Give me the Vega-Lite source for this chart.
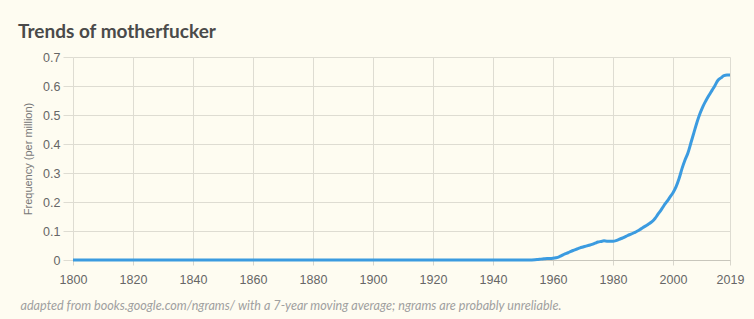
{
  "$schema": "https://vega.github.io/schema/vega-lite/v6.json",
  "autosize": "none",
  "width": 657,
  "height": 203,
  "padding": {"left": 73, "top": 57, "right": 24, "bottom": 59},
  "background": "#fefcf1",
  "title": {
    "text": "Trends of motherfucker",
    "anchor": "start",
    "frame": "group",
    "dx": -55,
    "offset": 9,
    "font": "Lato",
    "fontSize": 19,
    "fontWeight": "bold",
    "color": "#4a4a4a"
  },
  "data": {
    "values": [
      {"year": 1800, "freq": 0}, {"year": 1810, "freq": 0}, {"year": 1820, "freq": 0}, {"year": 1830, "freq": 0},
      {"year": 1840, "freq": 0}, {"year": 1850, "freq": 0}, {"year": 1860, "freq": 0}, {"year": 1870, "freq": 0},
      {"year": 1880, "freq": 0}, {"year": 1890, "freq": 0}, {"year": 1900, "freq": 0}, {"year": 1910, "freq": 0},
      {"year": 1920, "freq": 0}, {"year": 1930, "freq": 0}, {"year": 1940, "freq": 0}, {"year": 1950, "freq": 0},
      {"year": 1952, "freq": 0}, {"year": 1954, "freq": 0.001},
      {"year": 1955, "freq": 0.002}, {"year": 1956, "freq": 0.003}, {"year": 1957, "freq": 0.004},
      {"year": 1958, "freq": 0.005}, {"year": 1959, "freq": 0.005}, {"year": 1960, "freq": 0.006},
      {"year": 1961, "freq": 0.008}, {"year": 1962, "freq": 0.011}, {"year": 1963, "freq": 0.016},
      {"year": 1964, "freq": 0.021}, {"year": 1965, "freq": 0.025}, {"year": 1966, "freq": 0.030},
      {"year": 1967, "freq": 0.034}, {"year": 1968, "freq": 0.038}, {"year": 1969, "freq": 0.042},
      {"year": 1970, "freq": 0.045}, {"year": 1971, "freq": 0.048}, {"year": 1972, "freq": 0.051},
      {"year": 1973, "freq": 0.054}, {"year": 1974, "freq": 0.058}, {"year": 1975, "freq": 0.062},
      {"year": 1976, "freq": 0.064}, {"year": 1977, "freq": 0.066}, {"year": 1978, "freq": 0.065},
      {"year": 1979, "freq": 0.065}, {"year": 1980, "freq": 0.065}, {"year": 1981, "freq": 0.067},
      {"year": 1982, "freq": 0.071}, {"year": 1983, "freq": 0.075}, {"year": 1984, "freq": 0.080},
      {"year": 1985, "freq": 0.085}, {"year": 1986, "freq": 0.089}, {"year": 1987, "freq": 0.094},
      {"year": 1988, "freq": 0.099}, {"year": 1989, "freq": 0.105}, {"year": 1990, "freq": 0.112},
      {"year": 1991, "freq": 0.118}, {"year": 1992, "freq": 0.125}, {"year": 1993, "freq": 0.132},
      {"year": 1994, "freq": 0.143}, {"year": 1995, "freq": 0.158}, {"year": 1996, "freq": 0.172},
      {"year": 1997, "freq": 0.188}, {"year": 1998, "freq": 0.202}, {"year": 1999, "freq": 0.217},
      {"year": 2000, "freq": 0.232}, {"year": 2001, "freq": 0.252}, {"year": 2002, "freq": 0.280},
      {"year": 2003, "freq": 0.315}, {"year": 2004, "freq": 0.345}, {"year": 2005, "freq": 0.370},
      {"year": 2006, "freq": 0.405}, {"year": 2007, "freq": 0.440}, {"year": 2008, "freq": 0.475},
      {"year": 2009, "freq": 0.505}, {"year": 2010, "freq": 0.530}, {"year": 2011, "freq": 0.550},
      {"year": 2012, "freq": 0.568}, {"year": 2013, "freq": 0.585}, {"year": 2014, "freq": 0.602},
      {"year": 2015, "freq": 0.620}, {"year": 2016, "freq": 0.628}, {"year": 2017, "freq": 0.636},
      {"year": 2018, "freq": 0.638}, {"year": 2019, "freq": 0.638}
    ]
  },
  "mark": {"type": "line", "color": "#3b9be0", "strokeWidth": 3, "interpolate": "monotone"},
  "encoding": {
    "x": {
      "field": "year",
      "type": "quantitative",
      "scale": {"domain": [1800, 2019], "nice": false, "zero": false},
      "axis": {
        "values": [1800, 1820, 1840, 1860, 1880, 1900, 1920, 1940, 1960, 1980, 2000, 2019],
        "format": "d",
        "title": "adapted from books.google.com/ngrams/ with a 7-year moving average; ngrams are probably unreliable.",
        "titleFont": "Lato",
        "titleFontStyle": "italic",
        "titleFontWeight": "normal",
        "titleFontSize": 12.6,
        "titleColor": "#a0a0a0",
        "titleAnchor": "start",
        "titleAlign": "left",
        "titleX": -53,
        "titleY": 49,
        "titleBaseline": "alphabetic",
        "labelFont": "Liberation Sans",
        "labelFontSize": 12.5,
        "labelColor": "#666666",
        "labelPadding": 8,
        "tickSize": 5,
        "tickColor": "#d8d6cc",
        "domainColor": "#c8c6bc",
        "gridColor": "#dedcd2",
        "labelFlush": false
      }
    },
    "y": {
      "field": "freq",
      "type": "quantitative",
      "scale": {"domain": [0, 0.7], "nice": false},
      "axis": {
        "values": [0, 0.1, 0.2, 0.3, 0.4, 0.5, 0.6, 0.7],
        "format": ".1~f",
        "title": "Frequency (per million)",
        "titleFont": "Liberation Sans",
        "titleFontSize": 11,
        "titleFontWeight": "normal",
        "titleColor": "#777777",
        "titlePadding": 9,
        "labelFont": "Liberation Sans",
        "labelFontSize": 12.5,
        "labelColor": "#666666",
        "labelPadding": 3,
        "tickSize": 10,
        "tickColor": "#dedcd2",
        "domain": false,
        "gridColor": "#dedcd2"
      }
    }
  },
  "config": {"view": {"stroke": null}}
}
